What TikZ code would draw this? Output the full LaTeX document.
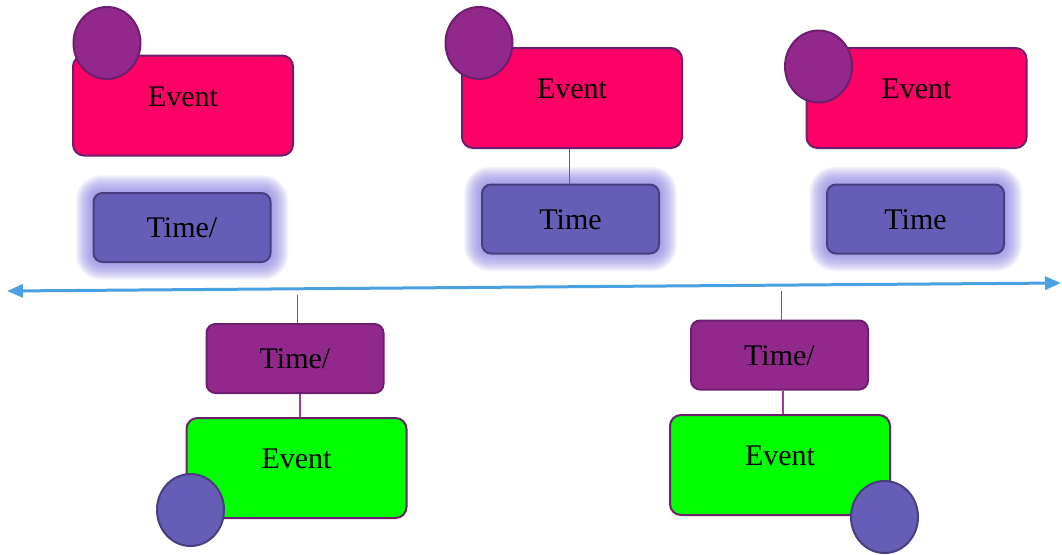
\documentclass[tikz,border=0pt]{standalone}
\usepackage{fontspec}
\setmainfont{Liberation Serif}
\usetikzlibrary{arrows.meta,calc,shapes.geometric}
\pgfdeclarelayer{canvas}
\pgfdeclarelayer{background}
\pgfsetlayers{canvas,background,main}

\definecolor{eventpink}{RGB}{255,0,102}
\definecolor{darkplum}{RGB}{110,30,110}
\definecolor{plum}{RGB}{146,40,140}
\definecolor{slate}{RGB}{102,94,182}
\definecolor{slateedge}{RGB}{72,62,128}
\definecolor{glowcol}{RGB}{140,130,228}
\definecolor{axisblue}{RGB}{74,160,225}
\definecolor{limegreen}{RGB}{0,255,0}
\definecolor{linkplum}{RGB}{160,60,160}

\tikzset{
  eventbox/.style={draw=darkplum, line width=2pt, rounded corners=11pt,
    minimum width=220pt, minimum height=100pt, inner sep=0pt,
    font=\fontsize{30}{32}\selectfont, text height=21pt, text depth=20pt},
  topevent/.style={eventbox, fill=eventpink},
  bottomevent/.style={eventbox, fill=limegreen},
  timebox/.style={line width=2pt, rounded corners=9pt,
    minimum width=177pt, minimum height=69pt, inner sep=0pt,
    font=\fontsize{30}{32}\selectfont, text height=20pt, text depth=0pt},
  toptime/.style={timebox, draw=slateedge, fill=slate},
  bottomtime/.style={timebox, draw=darkplum, fill=plum},
  badge/.style={ellipse, line width=2pt, minimum width=67pt,
    minimum height=72pt, inner sep=0pt},
  plumbadge/.style={badge, draw=darkplum, fill=plum},
  slatebadge/.style={badge, draw=slateedge, fill=slate},
  thinlink/.style={draw=linkplum, line width=1pt},
  thicklink/.style={draw=linkplum, line width=2.5pt},
  timeline/.style={draw=axisblue, line width=3pt,
    {Triangle[length=16pt,width=13pt]}-{Triangle[length=16pt,width=13pt]}},
}

% soft lavender halo behind a time box
\newcommand\halo[1]{%
  \begin{pgfonlayer}{background}
    \foreach \g in {1,...,17}{
      \pgfmathsetlengthmacro\haloround{9pt+\g pt}
      \fill[glowcol, opacity=0.065, rounded corners=\haloround]
        ([xshift=-\g pt,yshift=\g pt]#1.north west) rectangle
        ([xshift=\g pt,yshift=-\g pt]#1.south east);
    }
  \end{pgfonlayer}}

\begin{document}
\begin{tikzpicture}[x=1pt,y=-1pt]
  \begin{pgfonlayer}{canvas}
    \fill[white] (0,0) rectangle (1062,554);
  \end{pgfonlayer}
  \useasboundingbox (0,0) rectangle (1062,554);

  % timeline
  \coordinate (axL) at (7,291);
  \coordinate (axR) at (1061,283);
  \draw[timeline] (axL) -- (axR);
  \coordinate (ax4) at (297,295);
  \coordinate (ax5) at (781,291);

  % events above the line
  \node[topevent] (ev1) at (183,105.5) {Event};
  \node[plumbadge] (b1) at (107,43) {};
  \node[toptime] (tm1) at (182,227.5) {Time/};
  \halo{tm1}

  \node[topevent] (ev2) at (572,98) {Event};
  \node[plumbadge] (b2) at (479,43) {};
  \node[toptime] (tm2) at (570.5,219) {Time};
  \halo{tm2}
  \draw[thinlink] (ev2.south -| 569,0) -- (tm2.north -| 569,0);

  \node[topevent] (ev3) at (916.5,98) {Event};
  \node[plumbadge] (b3) at (818.5,66.5) {};
  \node[toptime] (tm3) at (915.5,219) {Time};
  \halo{tm3}

  % events below the line
  \node[bottomtime] (tm4) at (295,358.5) {Time/};
  \draw[thinlink] (ax4) -- (ax4 |- tm4.north);
  \node[bottomevent] (ev4) at (296.5,468) {Event};
  \draw[thicklink] (tm4.south -| 300,0) -- (ev4.north -| 300,0);
  \node[slatebadge] (b4) at (190.5,510) {};

  \node[bottomtime] (tm5) at (779.5,355) {Time/};
  \draw[thinlink] (ax5) -- (ax5 |- tm5.north);
  \node[bottomevent] (ev5) at (780,465) {Event};
  \draw[thicklink] (tm5.south -| 783,0) -- (ev5.north -| 783,0);
  \node[slatebadge] (b5) at (884.5,517) {};
\end{tikzpicture}
\end{document}
